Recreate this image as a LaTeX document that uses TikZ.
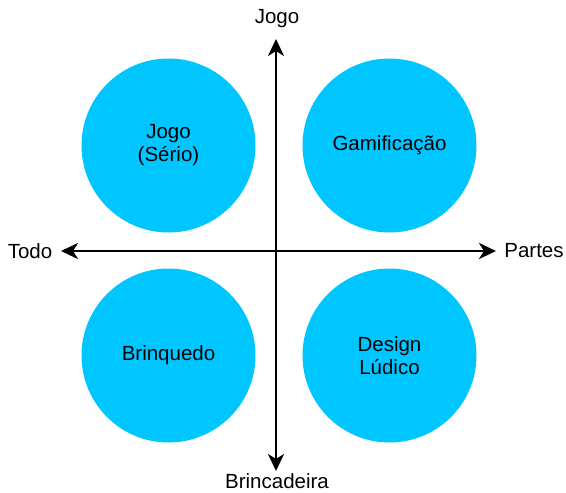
\documentclass[tikz,border=0pt]{standalone}
\usepackage{fontspec}
\setmainfont{Liberation Sans}
\usetikzlibrary{arrows.meta}
\definecolor{bubble}{RGB}{0,198,255}
\begin{document}
\begin{tikzpicture}[x=1pt,y=-1pt,
  bubblenode/.style={circle,fill=bubble,draw=none,minimum size=174pt,inner sep=0pt,
    align=center,font=\fontsize{20.5}{23}\selectfont},
  axislabel/.style={inner sep=0pt,font=\fontsize{20.5}{23}\selectfont},
  axisline/.style={line width=2.6pt,{Stealth[length=17pt,width=16pt,inset=5pt]}-{Stealth[length=17pt,width=16pt,inset=5pt]}}]
\useasboundingbox (0,0) rectangle (566,493);
\node[bubblenode] (tl) at (168.5,145.5) {Jogo\\(Sério)};
\node[bubblenode] (tr) at (389.5,145.5) {Gamificação};
\node[bubblenode] (bl) at (168.5,355.5) {Brinquedo};
\node[bubblenode] (br) at (389.5,355.5) {Design\\Lúdico};
\coordinate (top) at (276,39);
\coordinate (bottom) at (276,471);
\coordinate (left) at (61,251);
\coordinate (right) at (496,251);
\draw[axisline] (top) -- (bottom);
\draw[axisline] (left) -- (right);
\node[axislabel] (ljogo) at (277,19) {Jogo};
\node[axislabel] (lbrinc) at (277,481.5) {Brincadeira};
\node[axislabel] (ltodo) at (30,251) {Todo};
\node[axislabel] (lpartes) at (534,251) {Partes};
\end{tikzpicture}
\end{document}
